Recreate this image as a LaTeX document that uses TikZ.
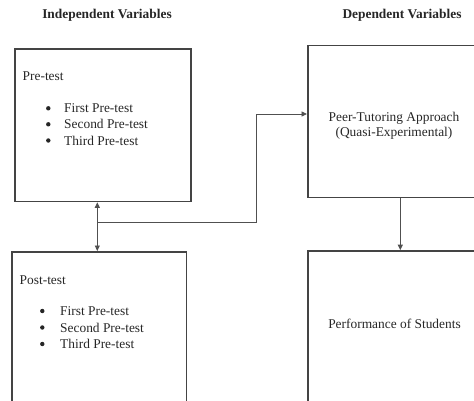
\documentclass[tikz,border=0pt]{standalone}
\usepackage{fontspec}
\setmainfont{Liberation Serif}
\usetikzlibrary{arrows.meta}
\definecolor{boxline}{HTML}{444444}
\definecolor{conline}{HTML}{505050}
\tikzset{
  box/.style={draw=boxline, line width=1.6pt, rectangle, inner sep=0pt},
  txt/.style={inner sep=0pt, font=\fontsize{13.4}{16}\selectfont, text=black!85},
  hdr/.style={inner sep=0pt, font=\fontsize{13.4}{16}\selectfont\bfseries, text=black!85},
  dot/.style={circle, fill=black!85, inner sep=0pt, minimum size=4.4pt},
  con/.style={draw=conline, line width=0.9pt},
  tip/.style={-{Triangle[length=5.5pt,width=5pt]}}
}
\begin{document}
\begin{tikzpicture}[x=1pt,y=-1pt]
\useasboundingbox (0,0) rectangle (474,401);
\clip (0,0) rectangle (474,401);
% headers
\node[hdr] (h1) at (107,15) {Independent Variables};
\node[hdr] (h2) at (402,15) {Dependent Variables};
% boxes
\node[box, anchor=north west, minimum width=176pt, minimum height=152.4pt] (tl) at (14,48.3) {};
\node[box, anchor=north west, minimum width=174.7pt, minimum height=180pt] (bl) at (11,251) {};
\node[box, anchor=north west, minimum width=174pt, minimum height=152pt] (tr) at (307,44.6) {};
\node[box, anchor=north west, minimum width=174pt, minimum height=180pt] (br) at (307,250.2) {};
% pre-test
\node[txt, anchor=west] (pre) at (22.5,76) {Pre-test};
\node[dot] (pd1) at (48.3,108.3) {};
\node[dot] (pd2) at (48.3,124.3) {};
\node[dot] (pd3) at (48.3,140.5) {};
\node[txt, anchor=west] (p1) at (64,108.3) {First Pre-test};
\node[txt, anchor=west] (p2) at (64,124.3) {Second Pre-test};
\node[txt, anchor=west] (p3) at (64,140.5) {Third Pre-test};
% post-test
\node[txt, anchor=west] (post) at (19.5,280) {Post-test};
\node[dot] (qd1) at (42.3,311) {};
\node[dot] (qd2) at (42.3,327.5) {};
\node[dot] (qd3) at (42.3,344) {};
\node[txt, anchor=west] (q1) at (60,311) {First Pre-test};
\node[txt, anchor=west] (q2) at (60,327.5) {Second Pre-test};
\node[txt, anchor=west] (q3) at (60,344) {Third Pre-test};
% right texts
\node[txt] (peer1) at (394,118.5) {Peer-Tutoring Approach};
\node[txt] (peer2) at (394,133.5) {(Quasi-Experimental)};
\node[txt] (perf) at (394.5,324) {Performance of Students};
% connectors
\coordinate (j) at (97.3,222.7);
\coordinate (k) at (256,114);
\coordinate (m) at (400.3,200);
\draw[con, tip] (j) -- (j |- tl.south);
\draw[con, tip] (j) -- (j |- bl.north);
\draw[con, tip] (j) -| (k) -- (k -| tr.west);
\draw[con, tip] (m |- tr.south) -- (m |- br.north);
\end{tikzpicture}
\end{document}
